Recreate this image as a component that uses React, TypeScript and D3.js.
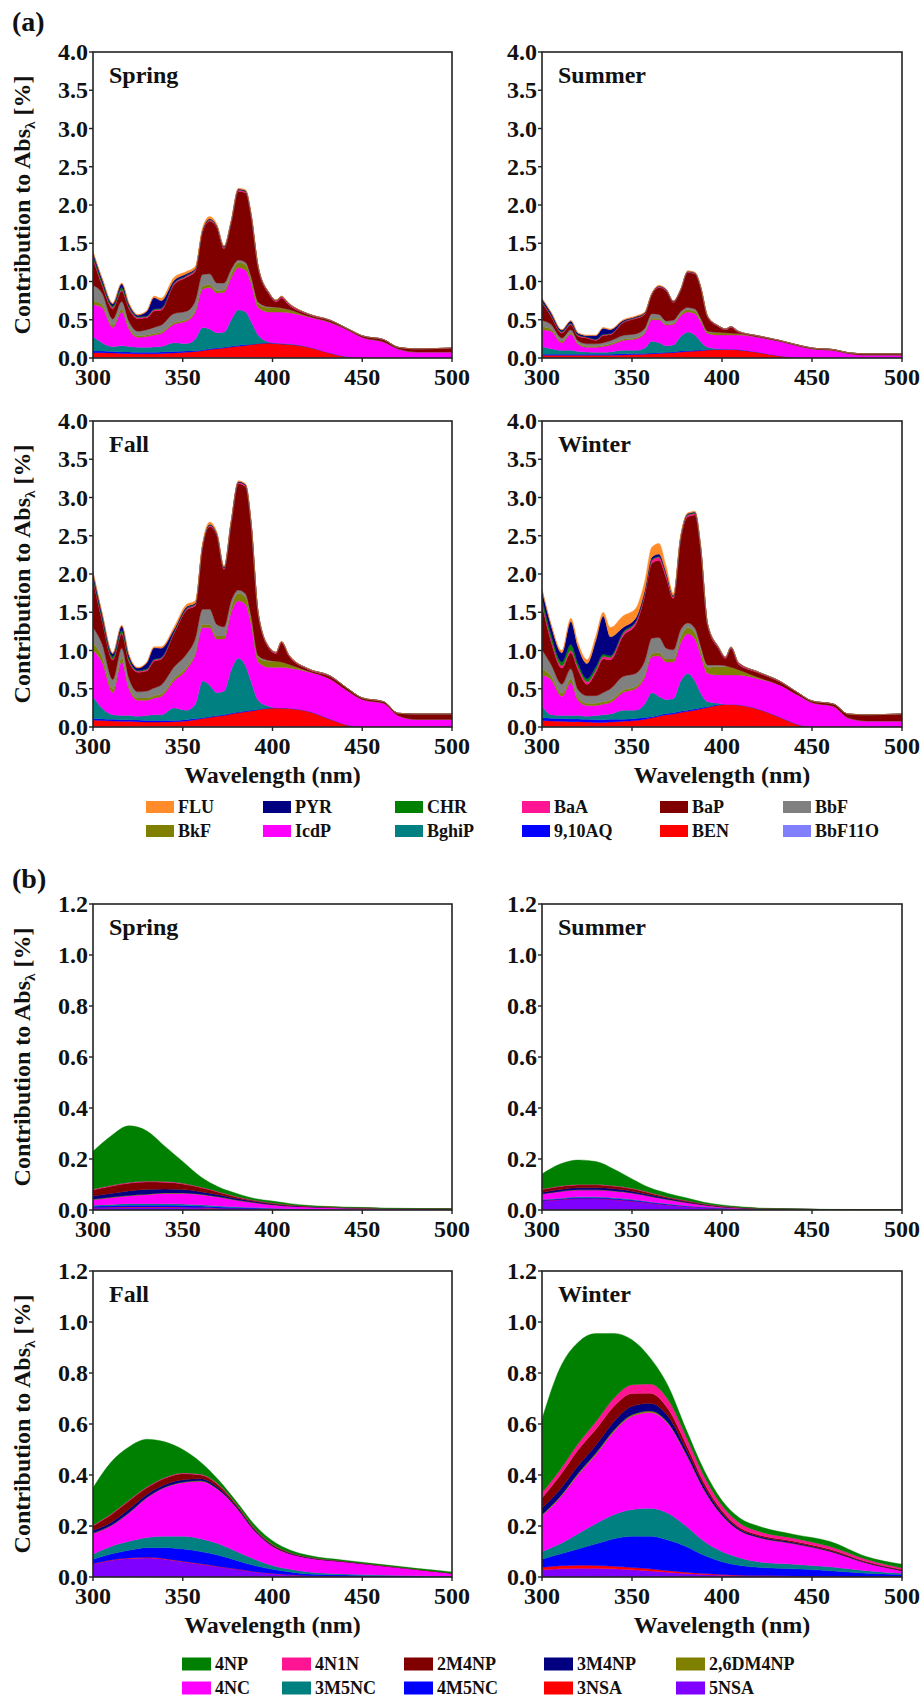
import React from 'react';
import * as d3 from 'd3';

// ---------------- data ----------------
const wlA = [300, 305, 311, 316, 320, 325, 330, 334, 338, 345, 352, 357, 361, 365, 369, 373, 377, 381, 385, 388, 392, 398, 402, 405, 409, 420, 432, 442, 450, 462, 470, 480, 500];
const wlB = [300, 310, 320, 330, 340, 350, 360, 370, 380, 390, 400, 410, 420, 440, 460, 480, 500];

const pahNames = ['FLU', 'PYR', 'CHR', 'BaA', 'BaP', 'BbF', 'BkF', 'IcdP', 'BghiP', '9,10AQ', 'BEN', 'BbF11O'];
const pahColors = ['#FF8C28', '#000080', '#008000', '#FF1493', '#800000', '#808080', '#808000', '#FF00FF', '#008080', '#0000FF', '#FF0000', '#8080FF'];

const nitroNames = ['4NP', '4N1N', '2M4NP', '3M4NP', '2,6DM4NP', '4NC', '3M5NC', '4M5NC', '3NSA', '5NSA'];
const nitroColors = ['#008000', '#FF1493', '#800000', '#000080', '#808000', '#FF00FF', '#008080', '#0000FF', '#FF0000', '#8000FF'];

const seasonNames = ['Spring', 'Summer', 'Fall', 'Winter'];

// (a) PAHs, rows in legend order
const pahSpring = [
  [.01, .01, .01, .01, .01, .01, .01, .02, .03, .04, .03, .03, .03, .03, .02, .01, .01, .01, .01, .01, .005, .005, .005, .005, .005, 0, 0, 0, 0, 0, 0, 0, 0],
  [.04, .04, .03, .05, .03, .02, .06, .15, .1, .03, .02, .01, .01, .01, .01, .01, .01, .01, .01, .01, 0, 0, 0, 0, 0, 0, 0, 0, 0, 0, 0, 0, 0],
  [.03, .03, .02, .03, .02, .01, .01, .01, .01, .01, .01, .01, .005, .005, .005, .005, .005, .005, .005, .005, .005, .005, .005, .005, .005, 0, 0, 0, 0, 0, 0, 0, 0],
  [.015, .015, .015, .015, .015, .015, .015, .015, .015, .015, .015, .015, .015, .015, .015, .015, .015, .015, .015, .015, .015, .015, .015, .015, .015, .01, .005, 0, 0, 0, 0, 0, 0],
  [.345, .105, .135, .135, .165, .165, .155, .215, .195, .375, .445, .385, .55, .69, .72, .45, .6, .9, .91, .79, .445, .165, .07, .13, .06, .02, .02, .015, .02, .03, .02, .04, .05],
  [.2, .15, .08, .1, .07, .06, .07, .08, .09, .12, .11, .12, .15, .14, .1, .09, .06, .03, .03, .03, .02, .01, .005, .005, .005, 0, 0, 0, 0, 0, 0, 0, 0],
  [.05, .04, .03, .04, .03, .02, .02, .02, .02, .02, .02, .03, .04, .04, .03, .03, .05, .07, .07, .06, .05, .06, .06, .05, .04, .01, .005, 0, 0, 0, 0, 0, 0],
  [.42, .46, .25, .44, .23, .13, .14, .155, .17, .24, .29, .35, .5, .54, .52, .52, .55, .55, .55, .5, .36, .39, .405, .41, .405, .39, .4, .35, .27, .21, .12, .08, .08],
  [.19, .11, .065, .08, .07, .065, .065, .07, .07, .115, .1, .155, .295, .26, .2, .2, .345, .465, .425, .3, .11, .01, .005, .005, .005, 0, 0, 0, 0, 0, 0, 0, 0],
  [.02, .02, .02, .02, .02, .02, .02, .02, .02, .02, .015, .01, .01, .01, .01, .01, .01, .01, .01, .005, .005, .005, 0, 0, 0, 0, 0, 0, 0, 0, 0, 0, 0],
  [.06, .06, .055, .05, .05, .045, .045, .045, .05, .055, .065, .075, .085, .1, .11, .12, .135, .145, .155, .165, .175, .185, .185, .18, .175, .14, .06, .01, 0, 0, 0, 0, 0],
  [.01, .01, .01, .01, .01, .01, .01, .01, .01, .01, .01, .01, .01, .01, .01, .01, .01, .01, .01, .01, .01, .01, .005, .005, .005, .005, .005, .005, 0, 0, 0, 0, 0],
];

const pahSummer = [
  [.005, .005, .005, .005, .005, .005, .005, .01, .01, .01, .01, .01, .01, .01, .005, .005, .005, .005, .005, .005, .005, 0, 0, 0, 0, 0, 0, 0, 0, 0, 0, 0, 0],
  [.03, .03, .02, .03, .02, .02, .05, .08, .05, .015, .01, .005, .005, .005, .005, .005, .005, .005, .005, .005, 0, 0, 0, 0, 0, 0, 0, 0, 0, 0, 0, 0, 0],
  [.01, .01, .01, .01, .01, .005, .005, .005, .005, .005, .005, .005, .003, .003, .003, .003, .003, .003, .003, .003, .003, 0, 0, 0, 0, 0, 0, 0, 0, 0, 0, 0, 0],
  [.01, .01, .01, .01, .01, .01, .01, .01, .01, .01, .01, .01, .01, .01, .01, .01, .01, .01, .01, .01, .01, .01, .01, .01, .01, .005, .005, 0, 0, 0, 0, 0, 0],
  [.235, .105, .065, .065, .06, .075, .045, .095, .08, .165, .2, .185, .242, .352, .392, .232, .272, .457, .457, .402, .182, .075, .04, .075, .02, .01, .005, .01, .01, .01, .01, .015, .015],
  [.08, .06, .04, .04, .03, .03, .03, .035, .04, .05, .05, .05, .06, .05, .04, .04, .03, .03, .03, .02, .01, .005, 0, 0, 0, 0, 0, 0, 0, 0, 0, 0, 0],
  [.04, .03, .02, .02, .015, .015, .015, .015, .015, .015, .015, .015, .02, .02, .015, .015, .025, .03, .03, .025, .02, .03, .03, .025, .02, .005, 0, 0, 0, 0, 0, 0, 0],
  [.22, .23, .1, .21, .095, .06, .065, .075, .09, .13, .15, .19, .28, .3, .27, .27, .27, .26, .28, .26, .18, .18, .185, .185, .19, .195, .19, .155, .12, .1, .06, .04, .04],
  [.1, .07, .05, .05, .035, .03, .025, .025, .03, .045, .04, .07, .155, .13, .085, .09, .19, .245, .2, .115, .03, .005, 0, 0, 0, 0, 0, 0, 0, 0, 0, 0, 0],
  [.015, .015, .015, .015, .015, .015, .015, .015, .015, .015, .015, .01, .01, .01, .01, .01, .01, .01, .01, .01, .005, .005, .005, .005, .005, 0, 0, 0, 0, 0, 0, 0, 0],
  [.03, .03, .03, .03, .03, .03, .03, .03, .03, .035, .04, .045, .05, .055, .06, .065, .075, .08, .085, .09, .1, .105, .105, .105, .1, .075, .03, .005, 0, 0, 0, 0, 0],
  [.005, .005, .005, .005, .005, .005, .005, .005, .005, .005, .005, .005, .005, .005, .005, .005, .005, .005, .005, .005, .005, .005, .005, .005, .005, 0, 0, 0, 0, 0, 0, 0, 0],
];

const pahFall = [
  [.01, .01, .01, .01, .01, .01, .01, .015, .02, .03, .03, .03, .03, .03, .02, .01, .01, .01, .01, .01, .005, .005, .005, .005, .005, 0, 0, 0, 0, 0, 0, 0, 0],
  [.05, .05, .04, .06, .04, .03, .08, .15, .12, .03, .02, .01, .01, .01, .01, .01, .01, .01, .01, .01, 0, 0, 0, 0, 0, 0, 0, 0, 0, 0, 0, 0, 0],
  [.03, .03, .03, .03, .03, .01, .01, .01, .01, .01, .01, .01, .005, .005, .005, .005, .005, .005, .005, .005, .005, 0, 0, 0, 0, 0, 0, 0, 0, 0, 0, 0, 0],
  [.015, .015, .015, .015, .015, .015, .015, .015, .015, .015, .015, .015, .015, .015, .015, .015, .015, .015, .015, .015, .015, .015, .015, .015, .015, .01, .01, 0, 0, 0, 0, 0, 0],
  [.625, .305, .255, .185, .215, .255, .265, .35, .335, .435, .575, .425, .8, 1.08, 1.16, .75, 1.01, 1.39, 1.4, 1.2, .545, .16, .1, .25, .11, .02, .03, .03, .02, .02, .03, .07, .07],
  [.2, .17, .12, .12, .1, .08, .09, .1, .12, .15, .17, .18, .2, .2, .15, .12, .08, .04, .04, .03, .02, .01, 0, 0, 0, 0, 0, 0, 0, 0, 0, 0, 0],
  [.1, .07, .05, .06, .04, .03, .03, .03, .03, .03, .03, .03, .04, .04, .04, .04, .07, .1, .1, .08, .06, .08, .08, .07, .05, .01, 0, 0, 0, 0, 0, 0, 0],
  [.6, .6, .29, .7, .35, .21, .2, .22, .24, .35, .53, .65, .7, .75, .7, .68, .75, .75, .8, .75, .5, .51, .53, .53, .525, .515, .525, .445, .36, .31, .15, .1, .1],
  [.29, .145, .06, .055, .055, .05, .065, .075, .075, .165, .125, .19, .48, .415, .3, .31, .57, .705, .59, .38, .12, .02, 0, 0, 0, 0, 0, 0, 0, 0, 0, 0, 0],
  [.02, .02, .02, .02, .02, .02, .02, .02, .02, .015, .015, .015, .01, .01, .01, .01, .01, .01, .01, .01, .005, .005, 0, 0, 0, 0, 0, 0, 0, 0, 0, 0, 0],
  [.08, .075, .07, .065, .065, .06, .055, .055, .055, .06, .07, .085, .1, .115, .13, .14, .16, .175, .19, .2, .215, .235, .24, .24, .235, .2, .1, .025, 0, 0, 0, 0, 0],
  [.01, .01, .01, .01, .01, .01, .01, .01, .01, .01, .01, .01, .01, .01, .01, .01, .01, .01, .01, .01, .01, .01, .01, .01, .01, .005, .005, 0, 0, 0, 0, 0, 0],
];

const pahWinter = [
  [.01, .02, .03, .04, .05, .05, .06, .05, .12, .15, .13, .12, .13, .14, .08, .03, .02, .01, .01, .01, .005, .005, .005, .005, .005, 0, 0, 0, 0, 0, 0, 0, 0],
  [.1, .12, .12, .3, .22, .2, .35, .5, .25, .06, .04, .03, .03, .03, .02, .01, .01, .01, .01, .01, 0, 0, 0, 0, 0, 0, 0, 0, 0, 0, 0, 0, 0],
  [.06, .06, .05, .08, .05, .04, .04, .03, .02, .02, .01, .01, .01, .01, .01, .01, .01, .01, .01, .01, .005, .005, .005, .005, .005, 0, 0, 0, 0, 0, 0, 0, 0],
  [.03, .03, .03, .03, .03, .03, .03, .03, .03, .03, .03, .03, .04, .04, .04, .02, .02, .02, .02, .02, .015, .015, .015, .015, .015, .01, .01, 0, 0, 0, 0, 0, 0],
  [.59, .3, .21, .21, .26, .15, .31, .44, .38, .53, .64, .85, .98, 1.01, .92, .67, 1.17, 1.39, 1.48, 1.28, .515, .215, .095, .245, .075, .06, .04, .03, .02, .03, .05, .08, .09],
  [.25, .15, .12, .13, .1, .1, .1, .12, .15, .18, .17, .18, .2, .2, .14, .12, .1, .06, .06, .05, .03, .02, .01, 0, 0, 0, 0, 0, 0, 0, 0, 0, 0],
  [.08, .05, .04, .05, .04, .03, .03, .03, .03, .03, .03, .03, .04, .04, .04, .04, .07, .08, .08, .07, .08, .11, .11, .1, .07, .02, 0, 0, 0, 0, 0, 0, 0],
  [.4, .46, .25, .43, .2, .14, .13, .14, .15, .23, .28, .35, .47, .53, .49, .48, .5, .52, .55, .5, .37, .37, .385, .385, .39, .395, .42, .385, .32, .27, .12, .08, .08],
  [.16, .045, .04, .045, .045, .04, .055, .065, .07, .12, .11, .175, .315, .245, .185, .185, .395, .48, .365, .2, .065, .015, 0, 0, 0, 0, 0, 0, 0, 0, 0, 0, 0],
  [.035, .035, .035, .035, .035, .035, .035, .035, .035, .025, .025, .025, .015, .015, .015, .015, .015, .015, .015, .015, .01, .01, 0, 0, 0, 0, 0, 0, 0, 0, 0, 0, 0],
  [.075, .07, .065, .06, .06, .055, .05, .05, .055, .065, .075, .09, .11, .13, .15, .16, .18, .195, .21, .225, .245, .275, .285, .285, .28, .23, .125, .035, 0, 0, 0, 0, 0],
  [.01, .01, .01, .01, .01, .01, .01, .01, .01, .01, .01, .01, .01, .01, .01, .01, .01, .01, .01, .01, .01, .01, .01, .01, .01, .005, .005, 0, 0, 0, 0, 0, 0],
];

// (b) nitroaromatics, rows in legend order
const nitroSpring = [
  [.149, .194, .222, .197, .138, .085, .04, .018, .0125, .007, .0075, .0055, .003, .0025, .002, .001, .001],
  [.003, .003, .003, .003, .003, .003, .002, .002, .0015, .001, .001, .0005, .0005, 0, 0, 0, 0],
  [.023, .028, .03, .03, .027, .022, .016, .01, .006, .004, .003, .002, .001, .0005, 0, 0, 0],
  [.013, .015, .018, .018, .015, .013, .01, .0085, .006, .004, .003, .002, .0015, .001, 0, 0, 0],
  [.002, .002, .002, .002, .002, .002, .002, .0015, .001, .001, .0005, 0, 0, 0, 0, 0, 0],
  [.021, .026, .03, .035, .04, .041, .0395, .034, .025, .0185, .013, .0105, .0085, .006, .0055, .0045, .0035],
  [.004, .005, .006, .006, .006, .006, .005, .004, .003, .002, .0015, .001, .001, .0005, 0, 0, 0],
  [.005, .006, .007, .007, .007, .007, .006, .005, .004, .003, .002, .0015, .001, .0005, 0, 0, 0],
  [.002, .002, .002, .002, .002, .002, .0015, .001, .001, .0005, .0005, 0, 0, 0, 0, 0, 0],
  [.008, .009, .01, .01, .01, .009, .008, .006, .005, .004, .003, .002, .0015, .001, .0005, .0005, .0005],
];

const nitroSummer = [
  [.059, .086, .096, .09, .065, .037, .0185, .014, .011, .006, .0045, .003, .002, .0015, .001, .0008, .001],
  [.002, .002, .002, .002, .002, .002, .0015, .001, .001, .0005, .0005, 0, 0, 0, 0, 0, 0],
  [.011, .012, .011, .011, .01, .009, .007, .004, .0035, .0025, .002, .001, .0005, 0, 0, 0, 0],
  [.006, .007, .008, .008, .008, .007, .006, .005, .003, .002, .001, .001, .0005, 0, 0, 0, 0],
  [.001, .001, .001, .001, .001, .001, .001, .001, .0005, .0005, 0, 0, 0, 0, 0, 0, 0],
  [.021, .026, .026, .026, .026, .024, .021, .0155, .012, .0075, .0045, .0035, .0015, .001, .0005, .0005, .0005],
  [.002, .002, .003, .003, .003, .003, .002, .002, .0015, .001, .0005, 0, 0, 0, 0, 0, 0],
  [.003, .003, .004, .004, .004, .004, .003, .003, .002, .0015, .001, .0005, .0005, 0, 0, 0, 0],
  [.001, .001, .001, .001, .001, .001, .001, .0005, .0005, 0, 0, 0, 0, 0, 0, 0, 0],
  [.035, .04, .044, .044, .04, .034, .026, .019, .013, .009, .006, .004, .003, .002, .001, .0005, .0005],
];

const nitroFall = [
  [.147, .203, .209, .187, .14, .092, .047, .017, .01, .014, .014, .0095, .0065, .004, .004, .004, .005],
  [.003, .003, .003, .003, .003, .003, .003, .003, .002, .002, .001, .001, .001, .0005, .0005, 0, 0],
  [.018, .03, .032, .026, .025, .024, .015, .011, .006, .004, .003, .002, .0015, .001, .0005, 0, 0],
  [.01, .012, .014, .012, .01, .009, .008, .007, .005, .004, .003, .002, .001, .0005, 0, 0, 0],
  [.002, .002, .002, .002, .002, .002, .002, .002, .002, .001, .001, .0005, 0, 0, 0, 0, 0],
  [.08, .08, .11, .155, .19, .21, .225, .21, .17, .11, .075, .06, .055, .048, .037, .025, .012],
  [.02, .03, .035, .04, .045, .05, .05, .045, .035, .025, .015, .01, .008, .004, .003, .002, .001],
  [.018, .023, .03, .038, .043, .048, .048, .0435, .034, .024, .0165, .0115, .007, .005, .003, .002, .001],
  [.002, .002, .002, .002, .002, .002, .002, .0015, .001, .001, .0005, .0005, 0, 0, 0, 0, 0],
  [.05, .065, .073, .075, .07, .06, .05, .04, .03, .02, .013, .008, .005, .003, .002, .001, .001],
];

const nitroWinter = [
  [.29, .4, .397, .345, .253, .176, .103, .054, .028, .024, .02, .02, .02, .015, .02, .011, .015],
  [.02, .022, .025, .03, .032, .034, .036, .036, .03, .026, .02, .017, .014, .012, .011, .009, .006],
  [.04, .055, .062, .062, .06, .05, .04, .03, .02, .013, .009, .006, .005, .005, .005, .003, .003],
  [.026, .028, .03, .032, .034, .034, .03, .025, .018, .014, .009, .006, .005, .004, .003, .002, .001],
  [.004, .005, .006, .006, .006, .006, .006, .005, .004, .003, .002, .0015, .001, .001, .0005, .0005, 0],
  [.14, .18, .23, .27, .325, .365, .375, .35, .28, .2, .14, .105, .095, .08, .06, .03, .01],
  [.03, .04, .06, .08, .095, .105, .11, .105, .08, .055, .04, .03, .022, .018, .015, .01, .005],
  [.032, .046, .064, .085, .108, .123, .128, .12, .101, .071, .05, .038, .032, .028, .022, .0135, .0085],
  [.01, .012, .012, .011, .01, .009, .008, .006, .005, .004, .003, .002, .002, .001, .001, .0005, .0005],
  [.028, .032, .034, .034, .032, .028, .024, .019, .014, .01, .007, .005, .004, .003, .002, .001, .001],
];

const xTickValues = [300, 350, 400, 450, 500];
const yTicksA = [0, 0.5, 1.0, 1.5, 2.0, 2.5, 3.0, 3.5, 4.0];
const yTicksB = [0, 0.2, 0.4, 0.6, 0.8, 1.0, 1.2];

// ---------------- layout ----------------
const WIDTH = 922;
const HEIGHT = 1697;
const FONT = '"Liberation Serif", "Times New Roman", Times, serif';
const COLS = [[93, 452], [542, 902]];
const ROWS_A = [[52, 358], [421, 727]];
const ROWS_B = [[904, 1210], [1271, 1577]];
const LEG_A_X = [146, 263, 395, 522, 660, 783];
const LEG_A_Y = [807, 831];
const LEG_B_X = [182, 282, 404, 544, 676];
const LEG_B_Y = [1664, 1688];

const fmt = d3.format('.1f');

type PanelProps = {
  id: string;
  x0: number; x1: number; y0: number; y1: number;
  wl: number[];
  series: number[][];
  names: string[];
  colors: string[];
  yTicks: number[];
  title: string;
  showYTitle: boolean;
  showXTitle: boolean;
};

function Panel(p: PanelProps) {
  const x = d3.scaleLinear().domain([300, 500]).range([p.x0, p.x1]);
  const yMax = p.yTicks[p.yTicks.length - 1];
  const y = d3.scaleLinear().domain([0, yMax]).range([p.y1, p.y0]);
  const rows = p.wl.map((w, i) => {
    const o: any = { w };
    p.names.forEach((n, k) => { o[n] = p.series[k][i]; });
    return o;
  });
  const keys = p.names.slice().reverse();
  const stacked = d3.stack<any>().keys(keys)(rows);
  const area = d3.area<any>()
    .x((d: any) => x(d.data.w))
    .y0((d: any) => y(d[0]))
    .y1((d: any) => y(d[1]))
    .curve(d3.curveMonotoneX);
  const cy = (p.y0 + p.y1) / 2;
  return (
    <g>
      <defs>
        <clipPath id={p.id}>
          <rect x={p.x0} y={p.y0} width={p.x1 - p.x0} height={p.y1 - p.y0} />
        </clipPath>
      </defs>
      <g clipPath={`url(#${p.id})`}>
        {stacked.map((s: any) => {
          const c = p.colors[p.names.indexOf(s.key)];
          return <path key={s.key} d={area(s) || ''} fill={c} stroke={c} strokeWidth={0.4} />;
        })}
      </g>
      <rect x={p.x0} y={p.y0} width={p.x1 - p.x0} height={p.y1 - p.y0} fill="none" stroke="#222" strokeWidth={1.6} />
      {p.yTicks.map((t) => (
        <g key={'y' + t}>
          <line x1={p.x0 - 4} x2={p.x0} y1={y(t)} y2={y(t)} stroke="#222" strokeWidth={1.4} />
          <text x={p.x0 - 5} y={y(t)} dy="0.34em" textAnchor="end" fontSize={24} fontWeight="bold" fontFamily={FONT} fill="#111">{fmt(t)}</text>
        </g>
      ))}
      {xTickValues.map((t) => (
        <g key={'x' + t}>
          <line x1={x(t)} x2={x(t)} y1={p.y1} y2={p.y1 + 4} stroke="#222" strokeWidth={1.4} />
          <text x={x(t)} y={p.y1 + 27} textAnchor="middle" fontSize={24} fontWeight="bold" fontFamily={FONT} fill="#111">{t}</text>
        </g>
      ))}
      <text x={p.x0 + 16} y={p.y0 + 31} fontSize={24} fontWeight="bold" fontFamily={FONT} fill="#111">{p.title}</text>
      {p.showYTitle && (
        <text transform={`translate(30,${cy}) rotate(-90)`} textAnchor="middle" fontSize={24} fontWeight="bold" fontFamily={FONT} fill="#111">
          Contribution to Abs<tspan fontSize={15} dy={5}>λ</tspan><tspan dy={-5}>{' [%]'}</tspan>
        </text>
      )}
      {p.showXTitle && (
        <text x={(p.x0 + p.x1) / 2} y={p.y1 + 56} textAnchor="middle" fontSize={24} fontWeight="bold" fontFamily={FONT} fill="#111">Wavelength (nm)</text>
      )}
    </g>
  );
}

function Legend({ names, colors, xs, ys, w, h }: { names: string[]; colors: string[]; xs: number[]; ys: number[]; w: number; h: number }) {
  const n = xs.length;
  return (
    <g>
      {names.map((name, i) => {
        const col = i % n;
        const row = Math.floor(i / n);
        const cx = xs[col];
        const cy = ys[row];
        return (
          <g key={name}>
            <rect x={cx} y={cy - h / 2} width={w} height={h} fill={colors[i]} />
            <text x={cx + w + 4} y={cy + 6} fontSize={18} fontWeight="bold" fontFamily={FONT} fill="#111">{name}</text>
          </g>
        );
      })}
    </g>
  );
}

export default function App() {
  const pahData = [pahSpring, pahSummer, pahFall, pahWinter];
  const nitroData = [nitroSpring, nitroSummer, nitroFall, nitroWinter];
  return (
    <div style={{ position: 'absolute', left: 0, top: 0 }}>
      <svg width={WIDTH} height={HEIGHT} viewBox={`0 0 ${WIDTH} ${HEIGHT}`} style={{ display: 'block', background: '#fff' }}>
        <rect x={0} y={0} width={WIDTH} height={HEIGHT} fill="#fff" />
        <text x={12} y={31} fontSize={28} fontWeight="bold" fontFamily={FONT} fill="#111">(a)</text>
        <text x={12} y={888} fontSize={28} fontWeight="bold" fontFamily={FONT} fill="#111">(b)</text>
        {seasonNames.map((s, i) => {
          const col = COLS[i % 2];
          const row = ROWS_A[Math.floor(i / 2)];
          return (
            <Panel key={'a' + s} id={'clipA' + i} x0={col[0]} x1={col[1]} y0={row[0]} y1={row[1]}
              wl={wlA} series={pahData[i]} names={pahNames} colors={pahColors} yTicks={yTicksA}
              title={s} showYTitle={i % 2 === 0} showXTitle={i >= 2} />
          );
        })}
        <Legend names={pahNames} colors={pahColors} xs={LEG_A_X} ys={LEG_A_Y} w={28} h={12} />
        {seasonNames.map((s, i) => {
          const col = COLS[i % 2];
          const row = ROWS_B[Math.floor(i / 2)];
          return (
            <Panel key={'b' + s} id={'clipB' + i} x0={col[0]} x1={col[1]} y0={row[0]} y1={row[1]}
              wl={wlB} series={nitroData[i]} names={nitroNames} colors={nitroColors} yTicks={yTicksB}
              title={s} showYTitle={i % 2 === 0} showXTitle={i >= 2} />
          );
        })}
        <Legend names={nitroNames} colors={nitroColors} xs={LEG_B_X} ys={LEG_B_Y} w={29} h={13} />
      </svg>
    </div>
  );
}
